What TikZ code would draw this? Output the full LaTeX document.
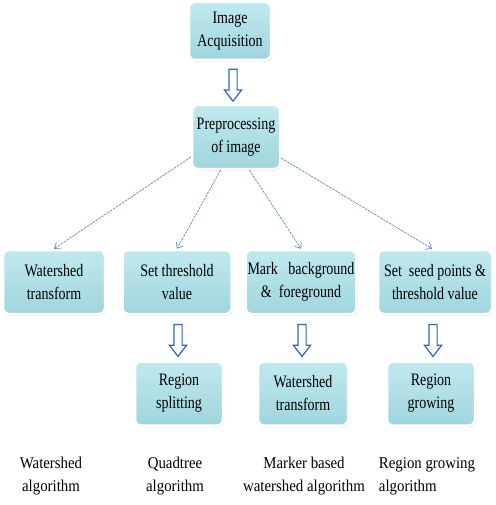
\documentclass[tikz,border=0pt]{standalone}
\usepackage{fontspec}
\setmainfont{Liberation Serif}
\newfontfamily\boxfont[FakeStretch=0.8]{Liberation Serif}
\newfontfamily\notefont[FakeStretch=0.9]{Liberation Serif}
\usepackage{xcolor}
\usepackage{tikz}
\usetikzlibrary{shapes.arrows, arrows.meta, positioning, shadows, calc}

\definecolor{boxtop}{RGB}{192,233,238}
\definecolor{boxbottom}{RGB}{160,213,221}
\definecolor{linkblue}{RGB}{96,136,186}
\definecolor{arrowblue}{RGB}{52,100,176}

\begin{document}
\begin{tikzpicture}[
			x=1pt, y=-1pt,
			node distance=45pt and 20pt,
			stage/.style={rectangle, rounded corners=6pt, align=center, draw=white, line width=2.5pt, top color=boxtop, bottom color=boxbottom, drop shadow={opacity=0.3, shadow xshift=1pt, shadow yshift=-1.5pt}, minimum height=64pt, inner sep=2pt, font=\boxfont\fontsize{17.5}{23}\selectfont},
			note/.style={align=center, inner sep=0pt, font=\notefont\fontsize{16.5}{23}\selectfont},
			link/.style={draw=linkblue, line width=0.7pt, dash pattern=on 2.5pt off 1pt, -{Straight Barb[length=5pt, width=8pt]}},
			hollow/.style={single arrow, draw=arrowblue, fill=white, line width=1.2pt, shape border rotate=270, minimum height=32pt, inner sep=3.5pt, single arrow head extend=4.5pt, single arrow tip angle=75}
			]
			\useasboundingbox (0,0) rectangle (495,505);
			
			% Etapas iniciales
			\node (acq) [stage, minimum width=82pt, minimum height=58pt] at (230,31) {Image\\Acquisition};
			\node (pre) [stage, minimum width=88pt] at (236,137) {Preprocessing\\of image};
			
			% Segmentaciones
			\node (wt) [stage, minimum width=102pt] at (54,282) {Watershed\\transform};
			\node (thr) [stage, minimum width=109pt] at (177,282) {Set threshold\\value};
			\node (mark) [stage, minimum width=108pt] at (301,282) {Mark~~~background\\\&~~foreground};
			\node (seed) [stage, minimum width=114pt] at (435,282) {Set~~seed points \&\\threshold value};
			
			% Resultados
			\node (split) [stage, minimum width=88pt, below=of thr, xshift=2pt] {Region\\splitting};
			\node (wsh) [stage, minimum width=90pt, below=of mark, xshift=2pt] {Watershed\\transform};
			\node (grow) [stage, minimum width=88pt, below=of seed, xshift=-4pt] {Region\\growing};
			
			% Algoritmos
			\node (algWt) [note] at (51,476) {Watershed\\algorithm};
			\node (algQuad) [note] at (175,476) {Quadtree\\algorithm};
			\node (algMark) [note] at (304,476) {Marker based\\watershed algorithm};
			\node (algGrow) [note, align=left] at (427,476) {Region growing\\algorithm};
			
			% Flechas huecas
			\node (h1) [hollow] at ($(acq.south)!0.5!(pre.north)$) {};
			\node (h2) [hollow] at ($(thr.south)!0.5!(split.north)$) {};
			\node (h3) [hollow] at ($(mark.south)!0.5!(wsh.north)$) {};
			\node (h4) [hollow] at ($(seed.south)!0.5!(grow.north)$) {};
			
			% Conexiones
			\draw [link] (pre.204) -- (wt.north);
			\draw [link] (pre.245) -- (thr.north);
			\draw [link] (pre.292) -- (mark.north);
			\draw [link] (pre.335) -- (seed.95);
			
		\end{tikzpicture}
\end{document}
